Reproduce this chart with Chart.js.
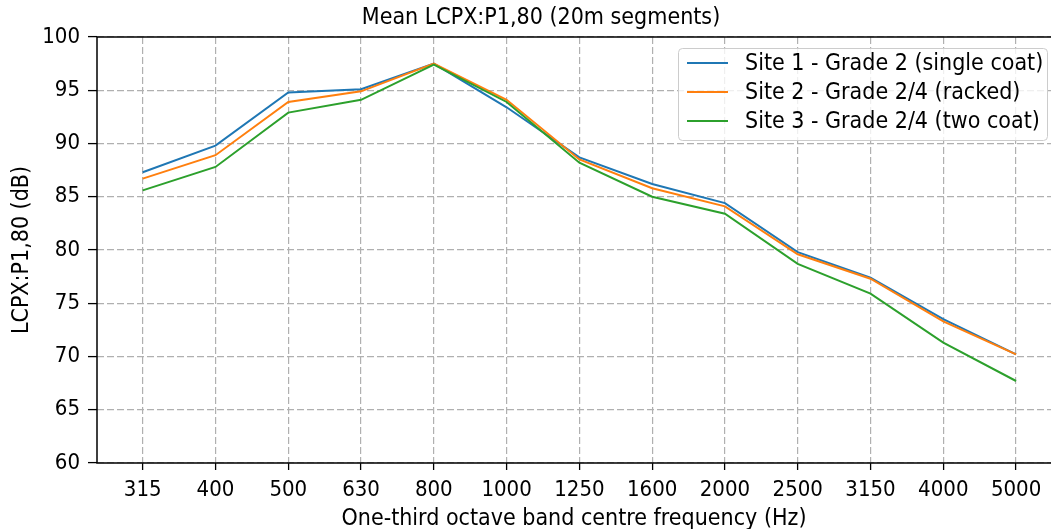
<!DOCTYPE html>
<html>
<head>
<meta charset="utf-8">
<script src="https://cdn.jsdelivr.net/npm/chart.js@4.4.1/dist/chart.umd.min.js"></script>
<style>
  html, body { margin: 0; padding: 0; background: #fff; }
  #wrap { width: 1051px; height: 529px; }
</style>
</head>
<body>
<div id="wrap"><canvas id="chart" width="1051" height="529"></canvas></div>
<script>
// one-third octave bands (Hz)
const bands = ["315", "400", "500", "630", "800", "1000", "1250", "1600", "2000", "2500", "3150", "4000", "5000"];

// mean LCPX:P1,80 per site (dB)
const site1 = [87.3, 89.8, 94.8, 95.1, 97.5, 93.4, 88.7, 86.2, 84.4, 79.8, 77.4, 73.5, 70.2];
const site2 = [86.7, 88.9, 93.9, 94.9, 97.5, 94.1, 88.5, 85.8, 84.1, 79.6, 77.3, 73.3, 70.2];
const site3 = [85.6, 87.8, 92.9, 94.1, 97.4, 93.9, 88.2, 85.0, 83.4, 78.7, 75.9, 71.3, 67.7];

const seriesNames = [
  "Site 1 - Grade 2 (single coat)",
  "Site 2 - Grade 2/4 (racked)",
  "Site 3 - Grade 2/4 (two coat)",
];
const yTicks = [60, 65, 70, 75, 80, 85, 90, 95, 100];

const COLORS = ["#1f77b4", "#ff7f0e", "#2ca02c"];
const FONT = "'DejaVu Sans Condensed', 'DejaVu Sans', sans-serif";
const FS = 23;
const TICK_FS = 22;

const toPoints = (vals) => vals.map((v, i) => ({ x: i, y: v }));

// frame, title and legend drawn the matplotlib way
const decorations = {
  id: "decorations",
  afterDraw(chart) {
    const { ctx, chartArea: a } = chart;
    ctx.save();
    // spines (right side is cropped in the original)
    ctx.strokeStyle = "#000";
    ctx.lineWidth = 1.5;
    ctx.beginPath();
    ctx.moveTo(chart.width + 2, a.top);
    ctx.lineTo(a.left, a.top);
    ctx.lineTo(a.left, a.bottom);
    ctx.lineTo(chart.width + 2, a.bottom);
    ctx.stroke();

    // title
    ctx.fillStyle = "#000";
    ctx.font = FS + "px " + FONT;
    ctx.textAlign = "center";
    ctx.textBaseline = "middle";
    ctx.fillText("Mean LCPX:P1,80 (20m segments)", 541, 18);

    // legend
    const bx = 678, by = 48, bw = 369, bh = 92, r = 4;
    ctx.fillStyle = "rgba(255,255,255,0.8)";
    ctx.strokeStyle = "#cccccc";
    ctx.lineWidth = 1;
    ctx.beginPath();
    ctx.roundRect(bx + 0.5, by + 0.5, bw, bh, r);
    ctx.fill();
    ctx.stroke();
    ctx.font = FS + "px " + FONT;
    ctx.textAlign = "left";
    seriesNames.forEach((name, i) => {
      const y = 63 + i * 29;
      ctx.strokeStyle = COLORS[i];
      ctx.lineWidth = 2;
      ctx.beginPath();
      ctx.moveTo(687, y);
      ctx.lineTo(728, y);
      ctx.stroke();
      ctx.fillStyle = "#000";
      ctx.fillText(name, 745, y + 1);
    });
    ctx.restore();
  },
};

const datasets = [site1, site2, site3].map((vals, i) => ({
  label: seriesNames[i],
  data: toPoints(vals),
  borderColor: COLORS[i],
  backgroundColor: COLORS[i],
  borderWidth: 2,
  pointRadius: 0,
  tension: 0,
  order: 2 - i, // later series on top, as in matplotlib
}));

new Chart(document.getElementById("chart"), {
  type: "line",
  data: { datasets },
  options: {
    responsive: false,
    animation: false,
    layout: { padding: { top: 37, right: 0, left: 0, bottom: 0 } },
    plugins: { legend: { display: false }, title: { display: false }, tooltip: { enabled: false } },
    scales: {
      x: {
        type: "linear",
        min: -0.628,
        max: 12.48,
        afterBuildTicks: (s) => { s.ticks = bands.map((_, i) => ({ value: i })); },
        afterFit: (s) => { s.height = 66; },
        border: { display: false, dash: [7, 3] },
        grid: {
          color: "#b0b0b0",
          lineWidth: 1.2,
          tickColor: "#000",
          tickLength: 7,
          tickBorderDash: [],
          tickWidth: 1.3,
        },
        ticks: {
          color: "#000",
          font: { family: FONT, size: TICK_FS },
          padding: 7,
          maxRotation: 0,
          autoSkip: false,
          callback: (v) => bands[v],
        },
        title: {
          display: true,
          text: "One-third octave band centre frequency (Hz)",
          color: "#000",
          font: { family: FONT, size: FS },
          padding: { top: 0, bottom: -4 },
        },
      },
      y: {
        min: 60,
        max: 100,
        afterBuildTicks: (s) => { s.ticks = yTicks.map((v) => ({ value: v })); },
        afterFit: (s) => { s.width = 97; },
        border: { display: false, dash: [7, 3] },
        grid: {
          color: "#b0b0b0",
          lineWidth: 1.2,
          tickColor: "#000",
          tickLength: 9,
          tickBorderDash: [],
          tickWidth: 1.3,
        },
        ticks: {
          color: "#000",
          font: { family: FONT, size: TICK_FS },
          padding: 8,
          callback: (v) => String(v),
        },
        title: {
          display: true,
          text: "LCPX:P1,80 (dB)",
          color: "#000",
          font: { family: FONT, size: FS },
          padding: { top: 8, bottom: 0 },
        },
      },
    },
  },
  plugins: [decorations],
});
</script>
</body>
</html>
